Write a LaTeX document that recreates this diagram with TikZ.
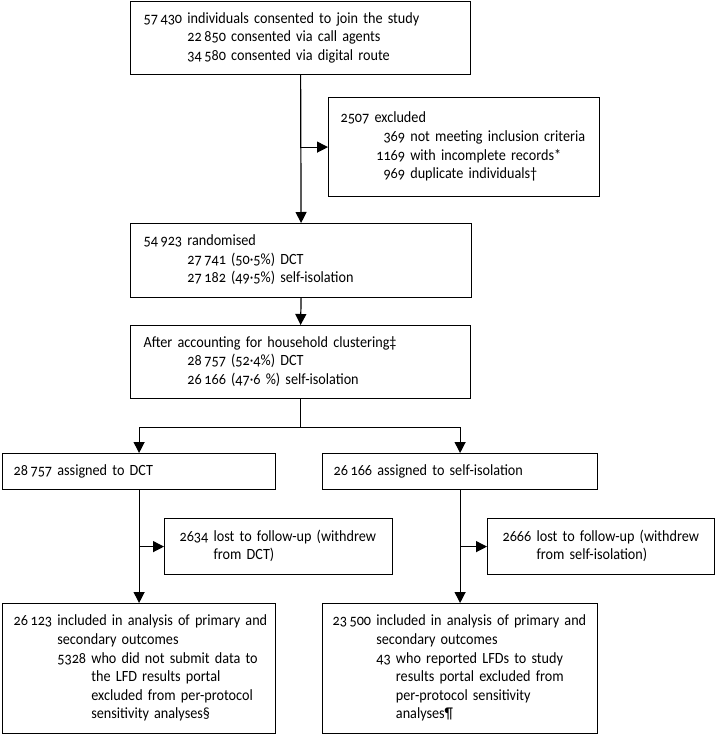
\documentclass[tikz,border=0pt]{standalone}
\usepackage{fontspec}
\setmainfont{Carlito}[Numbers=OldStyle,WordSpace=0.8,FakeStretch=0.91]
\usetikzlibrary{arrows.meta,calc}
\newcommand{\ts}{\,}
\newcommand{\lines}[1]{\begin{tabular}{@{}l@{}}#1\end{tabular}}
\begin{document}
\begin{tikzpicture}[x=1pt,y=-1pt,
  box/.style={draw, line width=1.2pt, anchor=north west, align=left, inner ysep=0pt,
              font=\fontsize{15.6}{18.6}\selectfont},
  arr/.style={-{Triangle[length=11pt,width=11pt]}, line width=1.2pt},
  ln/.style={line width=1.2pt}]
\useasboundingbox (0,0) rectangle (715,734);

\node[box, minimum width=340pt, minimum height=73pt, inner xsep=13pt, text width=314pt] (b1) at (130,1)
 {\lines{57\ts430 individuals consented to join the study\\
  \hphantom{57\ts430 }22\ts850 consented via call agents\\
  \hphantom{57\ts430 }34\ts580 consented via digital route}};

\node[box, minimum width=271pt, minimum height=99pt, inner xsep=12pt, text width=247pt] (excl) at (328,97)
 {\lines{2507 excluded\\
  \makebox[64.5pt][r]{369} not meeting inclusion criteria\\
  \makebox[64.5pt][r]{1169} with incomplete records*\\
  \makebox[64.5pt][r]{969} duplicate individuals†}};

\node[box, minimum width=341pt, minimum height=74pt, inner xsep=13pt, text width=315pt] (rand) at (130,223)
 {\lines{54\ts923 randomised\\
  \hphantom{57\ts430 }27\ts741 (50·5\%) DCT\\
  \hphantom{57\ts430 }27\ts182 (49·5\%) self-isolation}};

\node[box, minimum width=340pt, minimum height=73pt, inner xsep=13pt, text width=314pt] (clust) at (130,325)
 {\lines{After accounting for household clustering‡\\
  \hphantom{57\ts430 }28\ts757 (52·4\%) DCT\\
  \hphantom{57\ts430 }26\ts166 (47·6 \%) self-isolation}};

\node[box, minimum width=273pt, minimum height=36pt, inner xsep=11pt, text width=251pt] (dct) at (2,453)
 {\lines{28\ts757 assigned to DCT}};

\node[box, minimum width=275pt, minimum height=36pt, inner xsep=11pt, text width=253pt] (si) at (322,453)
 {\lines{26\ts166 assigned to self-isolation}};

\node[box, minimum width=228pt, minimum height=56pt, inner xsep=15pt, text width=198pt] (lostd) at (164,518)
 {\lines{2634 lost to follow-up (withdrew\\
  \hphantom{2634 }from DCT)}};

\node[box, minimum width=227pt, minimum height=56pt, inner xsep=15pt, text width=197pt] (losts) at (487,518)
 {\lines{2666 lost to follow-up (withdrew\\
  \hphantom{2666 }from self-isolation)}};

\node[box, minimum width=273pt, minimum height=130pt, inner xsep=11pt, text width=251pt] (fd) at (2,603)
 {\lines{26\ts123 included in analysis of primary and\\
  \hphantom{26\ts123 }secondary outcomes\\
  \hphantom{26\ts123 }5328 who did not submit data to\\
  \hphantom{26\ts123 5328 }the LFD results portal\\
  \hphantom{26\ts123 5328 }excluded from per-protocol\\
  \hphantom{26\ts123 5328 }sensitivity analyses§}};

\node[box, minimum width=275pt, minimum height=130pt, inner xsep=10pt, text width=255pt] (fs) at (322,603)
 {\lines{23\ts500 included in analysis of primary and\\
  \hphantom{23\ts500 }secondary outcomes\\
  \hphantom{23\ts500 }43 who reported LFDs to study\\
  \hphantom{23\ts500 43 }results portal excluded from\\
  \hphantom{23\ts500 43 }per-protocol sensitivity\\
  \hphantom{23\ts500 43 }analyses¶}};

% connectors
\draw[arr] (b1.south) -- (rand.north);
\draw[arr] (b1.south |- excl.west) -- (excl.west);
\draw[arr] (rand.south) -- (clust.north);
\coordinate (sp) at ($(clust.south)+(0,28)$);
\draw[ln] (clust.south) -- (sp);
\draw[arr] (sp) -| (dct.north);
\draw[arr] (sp) -| (si.north);
\draw[arr] (dct.south) -- (fd.north);
\draw[arr] (dct.south |- lostd.west) -- (lostd.west);
\draw[arr] (si.south) -- (fs.north);
\draw[arr] (si.south |- losts.west) -- (losts.west);
\end{tikzpicture}
\end{document}
